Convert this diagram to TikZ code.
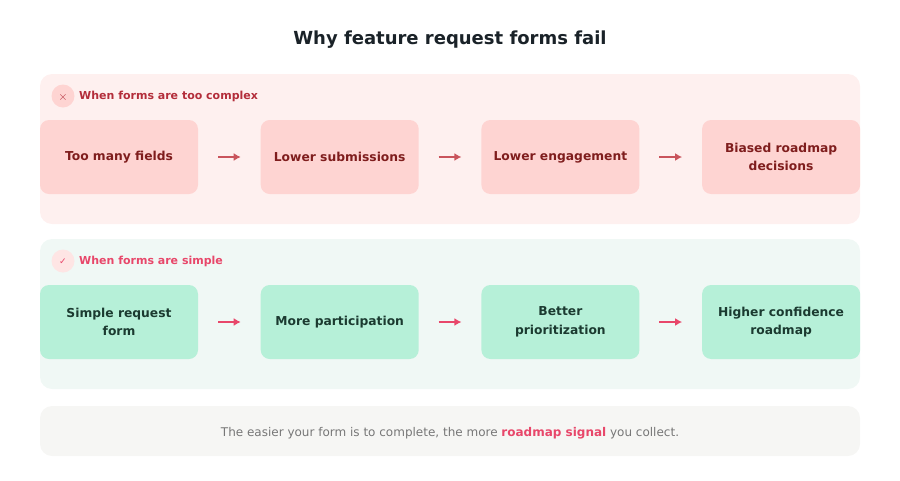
\documentclass[tikz,border=0pt]{standalone}
\usepackage{fontspec}
\setmainfont{DejaVu Sans}
\usetikzlibrary{positioning,arrows.meta}
\definecolor{badbg}{HTML}{FEF0EF}
\definecolor{badbox}{HTML}{FED4D2}
\definecolor{badtxt}{HTML}{7F1D1D}
\definecolor{badhead}{HTML}{B32D3A}
\definecolor{badarr}{HTML}{C9545C}
\definecolor{goodbg}{HTML}{F0F8F5}
\definecolor{goodbox}{HTML}{B6F0D8}
\definecolor{goodtxt}{HTML}{1B3A30}
\definecolor{pinkish}{HTML}{E8476A}
\definecolor{footbg}{HTML}{F6F6F4}
\definecolor{foottxt}{HTML}{777777}
\definecolor{titletxt}{HTML}{1A2228}
\tikzset{
  card/.style={rounded corners=9pt, minimum width=158pt, minimum height=74pt,
    align=center, font=\fontsize{12.3}{18.5}\selectfont\bfseries, inner sep=0pt, outer sep=0pt},
  bad/.style={card, fill=badbox, text=badtxt},
  good/.style={card, fill=goodbox, text=goodtxt},
  flow/.style={-{Latex[length=7pt,width=8pt]}, line width=1.8pt, shorten >=20pt, shorten <=20pt},
  head/.style={font=\fontsize{11}{14}\selectfont\bfseries, anchor=west, inner sep=0pt}
}
\begin{document}
\begin{tikzpicture}[x=1pt,y=-1pt,node distance=62.7pt]
\useasboundingbox (0,0) rectangle (900,480);
\node[font=\fontsize{18}{22}\selectfont\bfseries, text=titletxt] (title) at (450,40) {Why feature request forms fail};
% too complex
\fill[badbg, rounded corners=12pt] (40,74) rectangle (860,224);
\fill[badbox] (63,96) circle (11.5);
\node[text=badhead, font=\fontsize{13}{12}\selectfont] (xmark) at (63,97) {$\times$};
\node[head, text=badhead] (hbad) at (79,96) {When forms are too complex};
\node[bad] (b1) at (119,157) {\rule{0pt}{10pt}Too many fields};
\node[bad, right=of b1] (b2) {\rule{0pt}{10pt}Lower submissions};
\node[bad, right=of b2] (b3) {\rule{0pt}{10pt}Lower engagement};
\node[bad, right=of b3] (b4) {Biased roadmap\\decisions};
\foreach \a/\b in {b1/b2,b2/b3,b3/b4}
  \draw[flow, badarr] (\a) -- (\b);
% simple
\fill[goodbg, rounded corners=12pt] (40,239) rectangle (860,389);
\fill[badbox!60] (63,261) circle (11.5);
\node[text=pinkish, font=\fontsize{9}{12}\selectfont] (tick) at (63,262) {✓};
\node[head, text=pinkish] (hgood) at (79,261) {When forms are simple};
\node[good] (g1) at (119,322) {Simple request\\form};
\node[good, right=of g1] (g2) {\rule{0pt}{10pt}More participation};
\node[good, right=of g2] (g3) {Better\\prioritization};
\node[good, right=of g3] (g4) {Higher confidence\\roadmap};
\foreach \a/\b in {g1/g2,g2/g3,g3/g4}
  \draw[flow, pinkish] (\a) -- (\b);
% footer
\fill[footbg, rounded corners=12pt] (40,406) rectangle (860,456);
\node[text=foottxt, font=\fontsize{12}{15}\selectfont] (foot) at (450,433)
  {The easier your form is to complete, the more \textcolor{pinkish}{\bfseries roadmap signal} you collect.};
\end{tikzpicture}
\end{document}
